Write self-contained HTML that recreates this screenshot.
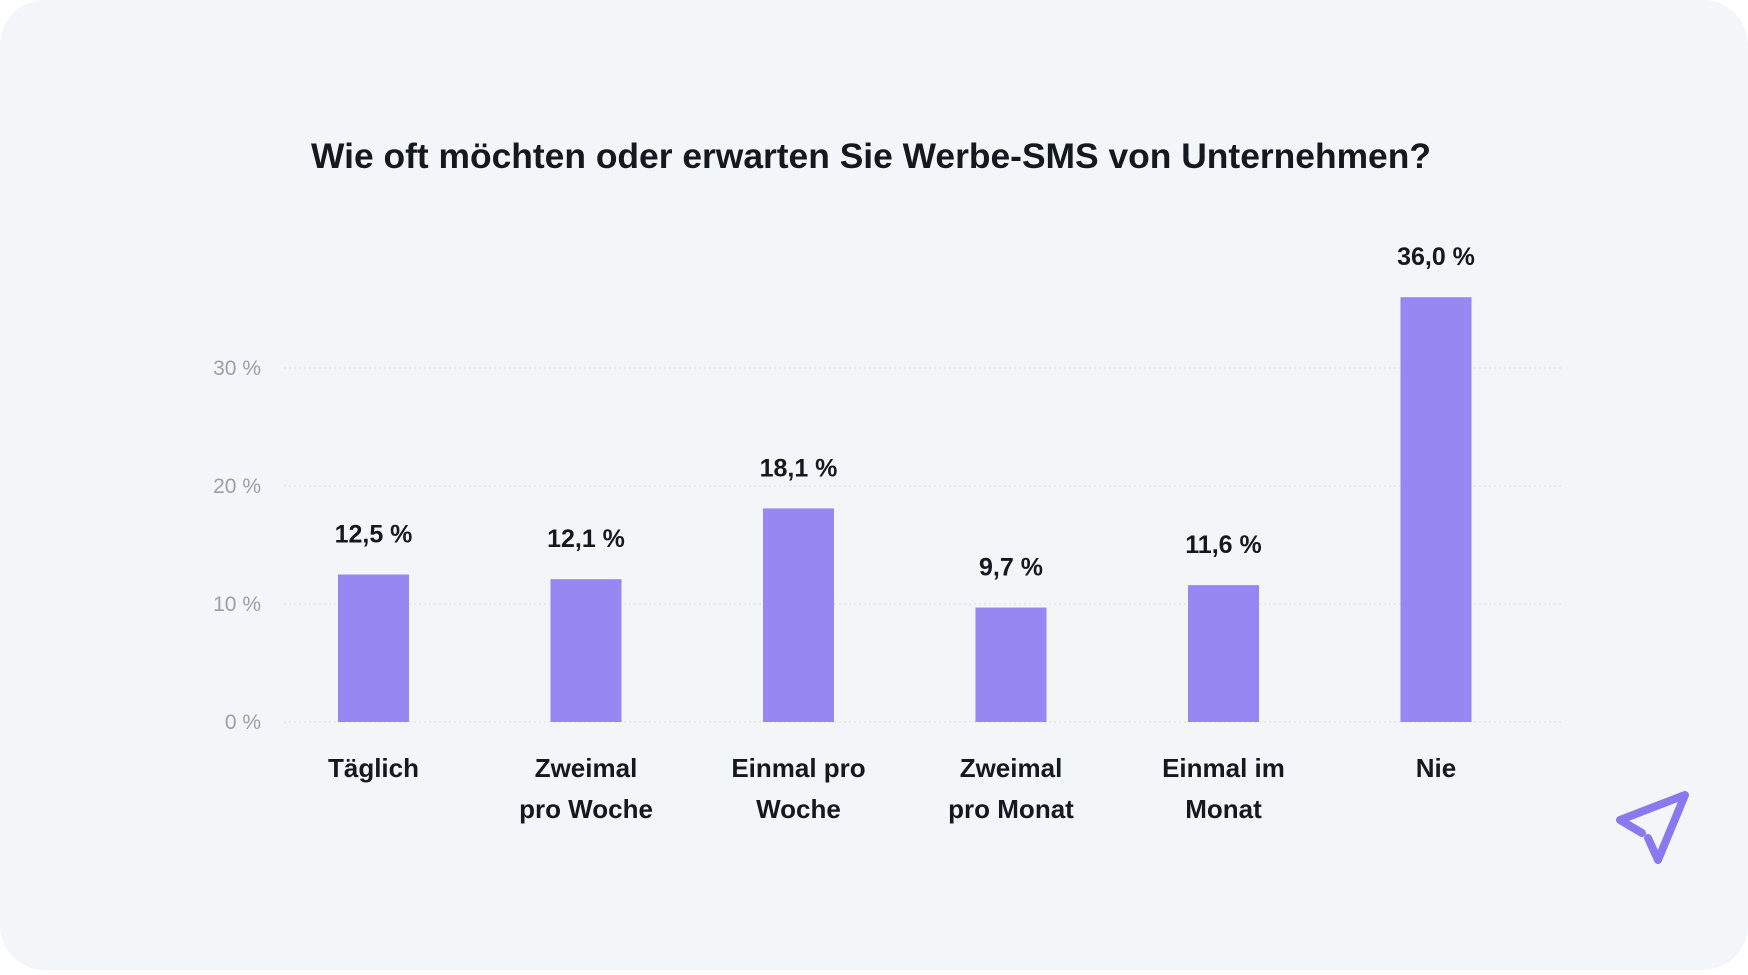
<!DOCTYPE html>
<html><head><meta charset="utf-8"><style>
html,body{margin:0;padding:0;background:#fff;}
body{width:1748px;height:970px;position:relative;overflow:hidden;font-family:"Liberation Sans",sans-serif;}
#card{position:absolute;left:0;top:0;width:1748px;height:970px;background:#f3f6f9;border-radius:45px;}
</style></head><body>
<div id="card">
<svg id="chart" width="1748" height="970">
<text x="871" y="168" text-anchor="middle" font-size="35.4" font-weight="bold" fill="#14181f">Wie oft möchten oder erwarten Sie Werbe-SMS von Unternehmen?</text>
<g id="grid"></g><g id="bars"></g>
<path d="M1642,833 L1620,820 L1685,795 L1658,860 L1648,838" fill="none" stroke="#8a79ee" stroke-width="8" stroke-linecap="round" stroke-linejoin="round"/>
</svg>
</div>
<script>
const categories=[["Täglich"],["Zweimal","pro Woche"],["Einmal pro","Woche"],["Zweimal","pro Monat"],["Einmal im","Monat"],["Nie"]];
const values=[12.5,12.1,18.1,9.7,11.6,36.0];
const valueLabels=["12,5 %","12,1 %","18,1 %","9,7 %","11,6 %","36,0 %"];
const ticks=[0,10,20,30];
const tickLabels=["0 %","10 %","20 %","30 %"];
const NS="http://www.w3.org/2000/svg";
const y0=722,perUnit=11.8;
const y=v=>y0-v*perUnit;
const x=i=>373.5+i*212.5;
function mk(tag,attrs,parent,text){const e=document.createElementNS(NS,tag);for(const k in attrs)e.setAttribute(k,attrs[k]);if(text!==undefined)e.textContent=text;parent.appendChild(e);return e;}
const grid=document.getElementById('grid'),bars=document.getElementById('bars');
ticks.forEach((t,i)=>{
 const l=mk('line',{x1:284,x2:1561,y1:y(t),y2:y(t),stroke:'#dde1e6','stroke-width':1.2,'stroke-dasharray':'2 3'},grid);
 
 
 const tx=mk('text',{x:261,y:y(t)+7,'text-anchor':'end','font-size':21,fill:'#9aa0a8'},grid,tickLabels[i]);
 
 
});
values.forEach((v,i)=>{
 const r=mk('rect',{x:x(i)-35.5,y:y(v),width:71,height:y0-y(v),fill:'#9787f3'},bars);
 
 
 const t=mk('text',{x:x(i),y:y(v)-32,'text-anchor':'middle','font-size':25,'font-weight':'bold',fill:'#14181f'},bars,valueLabels[i]);
 
 
 categories[i].forEach((line,j)=>{
  const c=mk('text',{x:x(i),y:777+j*41,'text-anchor':'middle','font-size':26,'font-weight':'bold',fill:'#14181f'},bars,line);
  
  
 });
});
</script>
</body></html>
